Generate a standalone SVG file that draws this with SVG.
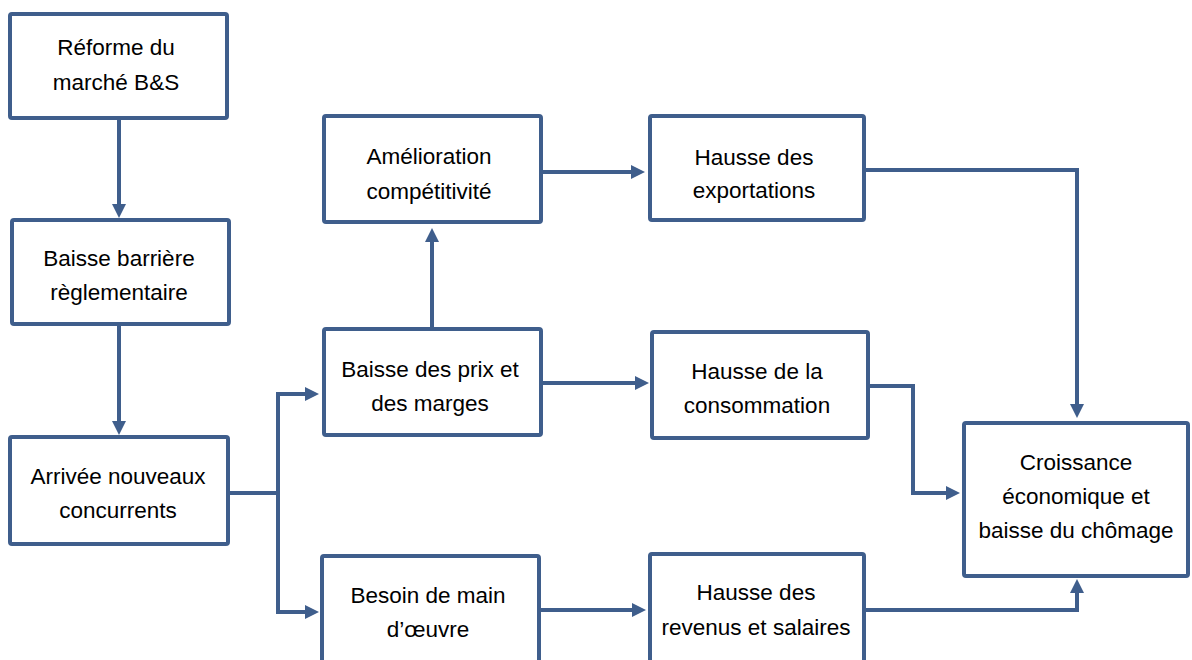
<svg xmlns="http://www.w3.org/2000/svg" width="1192" height="660" viewBox="0 0 1192 660">
<defs>
<marker id="arr" markerUnits="userSpaceOnUse" markerWidth="14" markerHeight="14" refX="6" refY="7" orient="auto">
<path d="M0,0 L14,7 L0,14 z" fill="#3F5E8C"/>
</marker>
<style>
.box{fill:#fff;stroke:#3F5E8C;stroke-width:4;}
.t{font-family:"Liberation Sans",Arial,sans-serif;font-size:22.5px;fill:#000;text-anchor:middle;}
.c{fill:none;stroke:#3F5E8C;stroke-width:4;}
.a{marker-end:url(#arr);}
</style>
</defs>
<rect width="1192" height="660" fill="#fff"/>
<g id="connectors">
<path class="c a" d="M119,120 V210"/>
<path class="c a" d="M119,326 V427"/>
<path class="c a" d="M230,493 H278 V394 H311"/>
<path class="c a" d="M278,493 V612 H311"/>
<path class="c a" d="M432,327 V236"/>
<path class="c a" d="M543,172 H637"/>
<path class="c a" d="M543,383 H641"/>
<path class="c a" d="M541,610 H638"/>
<path class="c a" d="M866,170 H1077 V410"/>
<path class="c a" d="M868,386 H913 V493 H952"/>
<path class="c a" d="M866,610 H1077 V587"/>
</g>
<g id="n1"><rect class="box" x="10" y="14" width="217" height="104" rx="2"/>
<text class="t" x="116" y="55">Réforme du</text><text class="t" x="116" y="90">marché B&amp;S</text></g>
<g id="n2"><rect class="box" x="12" y="220" width="217" height="104" rx="2"/>
<text class="t" x="119" y="266">Baisse barrière</text><text class="t" x="119" y="300">règlementaire</text></g>
<g id="n3"><rect class="box" x="10" y="437" width="218" height="107" rx="2"/>
<text class="t" x="118" y="484">Arrivée nouveaux</text><text class="t" x="118" y="518">concurrents</text></g>
<g id="n4"><rect class="box" x="324" y="116" width="217" height="106" rx="2"/>
<text class="t" x="429" y="164">Amélioration</text><text class="t" x="429" y="199">compétitivité</text></g>
<g id="n5"><rect class="box" x="650" y="116" width="214" height="104" rx="2"/>
<text class="t" x="754" y="165">Hausse des</text><text class="t" x="754" y="198">exportations</text></g>
<g id="n6"><rect class="box" x="324" y="329" width="217" height="106" rx="2"/>
<text class="t" x="430" y="377">Baisse des prix et</text><text class="t" x="430" y="411">des marges</text></g>
<g id="n7"><rect class="box" x="652" y="332" width="216" height="106" rx="2"/>
<text class="t" x="757" y="379">Hausse de la</text><text class="t" x="757" y="413">consommation</text></g>
<g id="n8"><rect class="box" x="964" y="423" width="224" height="153" rx="2"/>
<text class="t" x="1076" y="470">Croissance</text><text class="t" x="1076" y="504">économique et</text><text class="t" x="1076" y="538">baisse du chômage</text></g>
<g id="n9"><rect class="box" x="322" y="556" width="217" height="110" rx="2"/>
<text class="t" x="428" y="603">Besoin de main</text><text class="t" x="428" y="637">d’œuvre</text></g>
<g id="n10"><rect class="box" x="650" y="554" width="214" height="110" rx="2"/>
<text class="t" x="756" y="600">Hausse des</text><text class="t" x="756" y="635">revenus et salaires</text></g>
</svg>
